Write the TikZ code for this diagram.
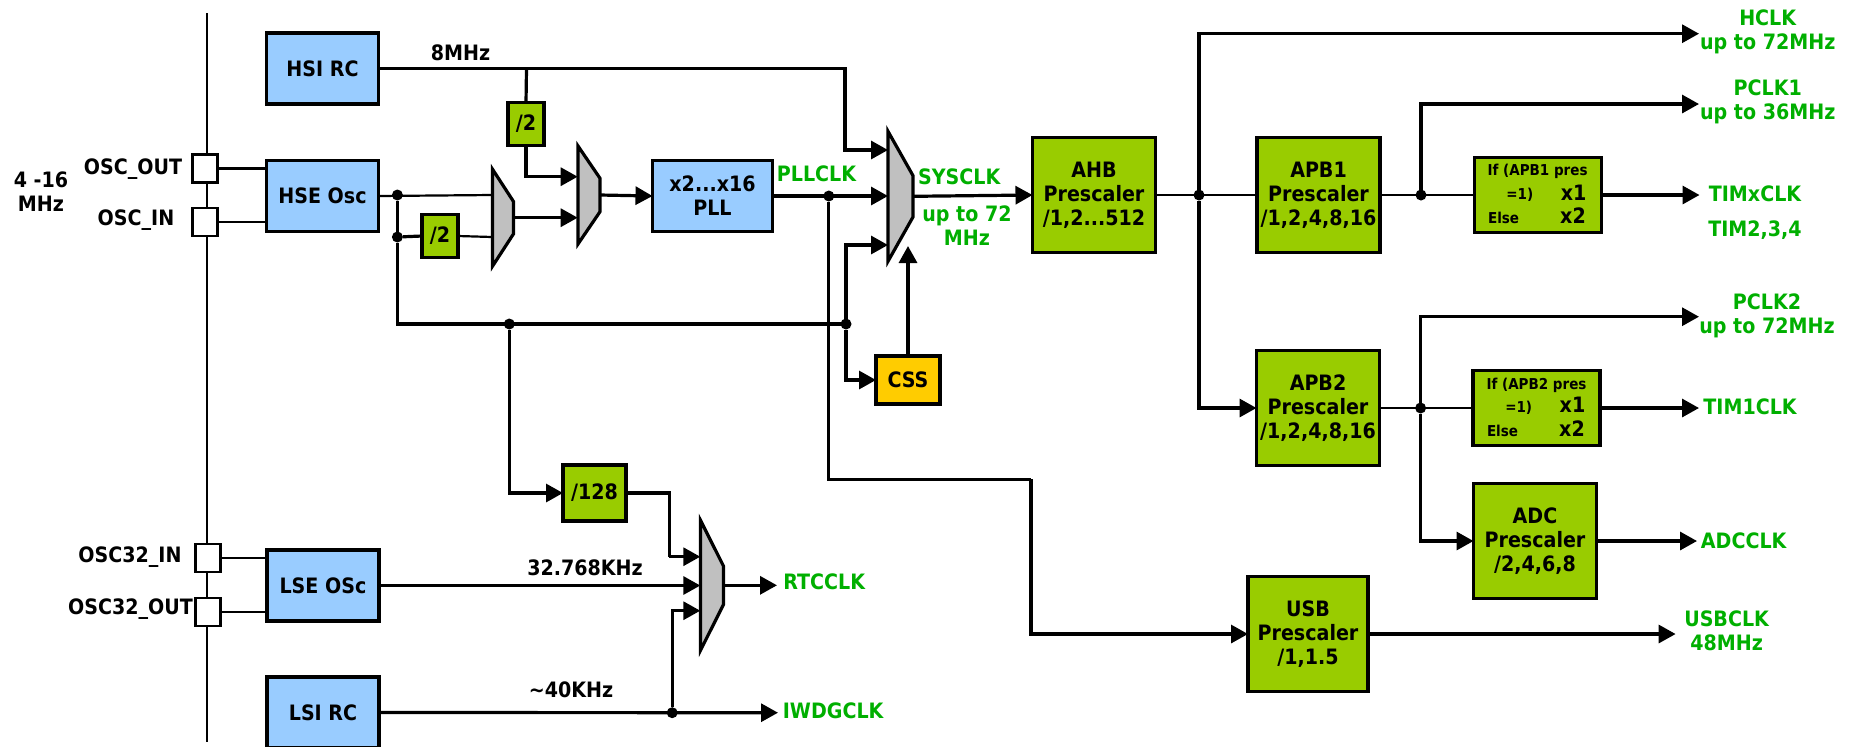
\documentclass[tikz,border=0pt]{standalone}
\usepackage{fontspec}
\setmainfont{DejaVu Sans Condensed}[BoldFont=DejaVu Sans Condensed Bold]
\usetikzlibrary{arrows.meta,shapes.geometric}
\definecolor{oscblue}{HTML}{99CCFF}
\definecolor{divgreen}{HTML}{99CC00}
\definecolor{cssyellow}{HTML}{FFCC00}
\definecolor{muxgray}{HTML}{C0C0C0}
\definecolor{clkgreen}{HTML}{00AF00}
\tikzset{
	fontbf/.style={font=\fontsize{10.6}{12}\selectfont\bfseries},
	block/.style={draw,line width=1.6pt,align=center,inner sep=0pt,outer sep=0pt,fontbf},
	oscbox/.style={block,fill=oscblue,minimum width=56pt,minimum height=35.5pt},
	prebox/.style={block,fill=divgreen,minimum width=61.5pt,minimum height=57.5pt},
	divbox/.style={block,fill=divgreen,minimum width=18pt,minimum height=21.5pt},
	timbox/.style={block,fill=divgreen,minimum width=63.5pt,minimum height=37.5pt},
	pinbox/.style={draw,line width=1.1pt,fill=white,inner sep=0pt,outer sep=0pt,minimum width=12.5pt,minimum height=14pt},
	muxbox/.style={draw,line width=1.6pt,fill=muxgray,trapezium,rotate=-90,trapezium stretches=true,inner sep=1pt,outer sep=0pt},
	joint/.style={circle,fill=black,inner sep=0pt,outer sep=0pt,minimum size=5.5pt},
	txt/.style={fontbf,inner sep=0pt},
	clk/.style={txt,text=clkgreen,align=center},
	small/.style={inner sep=0pt,font=\fontsize{7.5}{8}\selectfont\bfseries},
	wire/.style={draw,line width=1.6pt},
	thinwire/.style={draw,line width=1.1pt},
	conn/.style={wire,-{Triangle[length=8.5pt,width=9pt]}}
}
\begin{document}
\begin{tikzpicture}[x=0.5pt,y=-0.5pt]
	\useasboundingbox (0,0) rectangle (1850,746);
	% package pins
	\coordinate (railtop) at (207,13);
	\coordinate (railbot) at (207,742);
	\draw[thinwire] (railtop) -- (railbot);
	\node[pinbox] (pinout) at (205,168.5) {};
	\node[pinbox] (pinin) at (205,222) {};
	\node[pinbox] (pinout32) at (208,612) {};
	\node[pinbox] (pinin32) at (208,558) {};
	\node[txt] (lblout) at (133,169) {OSC\_OUT};
	\node[txt] (lblin) at (136,220) {OSC\_IN};
	\node[txt] (lblin32) at (130,557) {OSC32\_IN};
	\node[txt] (lblout32) at (130.5,609) {OSC32\_OUT};
	\node[txt,align=center] (lblfreq) at (41,192) {4 -16\\MHz};

	% sources
	\node[oscbox] (hsi) at (322.5,68.5) {HSI RC};
	\node[oscbox] (hse) at (322.5,196) {HSE Osc};
	\node[oscbox] (lse) at (323,585.5) {LSE OSc};
	\node[oscbox] (lsi) at (323,712.5) {LSI RC};
	\node[oscbox,minimum width=60pt] (pll) at (712.5,196) {x2...x16\\PLL};
	\node[divbox] (diva) at (526,124) {/2};
	\node[divbox] (divb) at (440,236) {/2};
	\node[divbox,minimum width=31.5pt,minimum height=28pt] (divc) at (594.5,493) {/128};
	\node[block,fill=cssyellow,minimum width=32pt,minimum height=24pt] (css) at (908,380) {CSS};

	% multiplexers
	\node[muxbox,minimum width=48.5pt,minimum height=10.5pt,trapezium angle=45] (muxa) at (503,217.7) {};
	\node[muxbox,minimum width=49pt,minimum height=11pt,trapezium angle=46] (muxb) at (589,195) {};
	\node[muxbox,minimum width=65pt,minimum height=12.5pt,trapezium angle=43] (muxc) at (900.5,196.3) {};
	\node[muxbox,minimum width=65pt,minimum height=11.5pt,trapezium angle=40] (muxd) at (712,585.3) {};

	% prescalers
	\node[prebox] (ahb) at (1094,195) {AHB\\Prescaler\\/1,2...512};
	\node[prebox] (apba) at (1318.5,195) {APB1\\Prescaler\\/1,2,4,8,16};
	\node[prebox] (apbb) at (1318,408) {APB2\\Prescaler\\/1,2,4,8,16};
	\node[prebox] (adc) at (1535,541) {ADC\\Prescaler\\/2,4,6,8};
	\node[prebox,minimum width=60pt] (usb) at (1308,634) {USB\\Prescaler\\/1,1.5};
	\node[timbox] (tima) at (1537.7,195) {};
	\node[timbox] (timb) at (1536.5,408) {};

	% timer multiplier texts
	\node[small] (ifa) at (1537.6,171) {If (APB1 pres};
	\node[small] (eqa) at (1519.8,194.3) {=1)};
	\node[small] (elsea) at (1503.6,218) {Else};
	\node[txt] (xonea) at (1573.6,192.3) {x1};
	\node[txt] (xtwoa) at (1573,216) {x2};
	\node[small] (ifb) at (1536.5,385) {If (APB2 pres};
	\node[small] (eqb) at (1518.7,408) {=1)};
	\node[small] (elseb) at (1502.5,431) {Else};
	\node[txt] (xoneb) at (1572.5,405) {x1};
	\node[txt] (xtwob) at (1572,429) {x2};

	% frequency texts
	\node[txt] (lbleight) at (460.5,53) {8MHz};
	\node[txt] (lblrtc) at (585,568) {32.768KHz};
	\node[txt] (lblforty) at (571,690) {\textasciitilde40KHz};

	% clock names
	\node[clk] (pllclk) at (816.5,173.7) {PLLCLK};
	\node[clk] (sysclk) at (959.3,176.7) {SYSCLK};
	\node[clk] (sysmax) at (967,226) {up to 72\\MHz};
	\node[clk] (hclk) at (1767.7,32) {HCLK\\up to 72MHz};
	\node[clk] (pclka) at (1767.7,102) {PCLK1\\up to 36MHz};
	\node[clk] (pclkb) at (1767,316) {PCLK2\\up to 72MHz};
	\node[clk] (timxclk) at (1755,194) {TIMxCLK};
	\node[clk] (timlist) at (1755,230) {TIM2,3,4};
	\node[clk,anchor=west] (timoneclk) at (1703,407) {TIM1CLK};
	\node[clk,anchor=west] (adcclk) at (1700.5,540.7) {ADCCLK};
	\node[clk] (usbclk) at (1726.6,630.7) {USBCLK\\48MHz};
	\node[clk,anchor=west] (rtcclk) at (783,582) {RTCCLK};
	\node[clk,anchor=west] (iwdgclk) at (782.5,710.7) {IWDGCLK};

	% junctions
	\node[joint] (joscup) at (397.4,195) {};
	\node[joint] (joscdiv) at (397.4,237) {};
	\node[joint] (jcssa) at (509.3,324) {};
	\node[joint] (jcssb) at (846,324) {};
	\node[joint] (jpll) at (828.8,196) {};
	\node[joint] (jahb) at (1199,195) {};
	\node[joint] (japba) at (1421,195) {};
	\node[joint] (japbb) at (1420.6,408) {};
	\node[joint] (jlsi) at (672.2,712.7) {};

	% ends and bends
	\coordinate (hsitap) at (526.5,68.5);
	\coordinate (hsibend) at (845,150);
	\coordinate (muxain) at (492.3,195);
	\coordinate (muxaalt) at (492.3,237);
	\coordinate (muxbtop) at (577.7,176.7);
	\coordinate (muxblow) at (577.7,217.7);
	\coordinate (muxctop) at (888,150);
	\coordinate (muxcmid) at (888,196);
	\coordinate (muxclow) at (888,245);
	\coordinate (muxccss) at (908,246);
	\coordinate (muxdbend) at (669.4,556.7);
	\coordinate (muxdtop) at (700.3,556.7);
	\coordinate (muxdmid) at (700.3,585.5);
	\coordinate (muxdlow) at (700.3,610.7);
	\coordinate (usbbend) at (1031,479.3);
	\coordinate (hclktip) at (1699,33.7);
	\coordinate (pclkatip) at (1699,104);
	\coordinate (timxtip) at (1699.5,195);
	\coordinate (pclkbtip) at (1699,316.7);
	\coordinate (timonetip) at (1699,408);
	\coordinate (adctip) at (1697,541);
	\coordinate (usbtip) at (1675.6,634);
	\coordinate (rtctip) at (777,585.3);
	\coordinate (iwdgtip) at (778,712.7);

	% connectors
	\draw[thinwire] (pinout.east) -- (pinout.east -| hse.west);
	\draw[thinwire] (pinin.east) -- (pinin.east -| hse.west);
	\draw[thinwire] (pinin32.east) -- (pinin32.east -| lse.west);
	\draw[thinwire] (pinout32.east) -- (pinout32.east -| lse.west);
	\draw[conn] (hsi.east) -| (hsibend) -- (muxctop);
	\draw[wire] (hsitap) -- (diva.north);
	\draw[conn] (diva.south) |- (muxbtop);
	\draw[thinwire] (hse.east) -- (muxain);
	\draw[thinwire] (joscup) -- (joscdiv);
	\draw[wire] (joscdiv) -- (divb.west);
	\draw[thinwire] (divb.east) -- (muxaalt);
	\draw[conn] (muxa.north) -- (muxblow);
	\draw[conn] (muxb.north) -- (pll.west);
	\draw[conn] (pll.east) -- (muxcmid);
	\draw[wire] (joscdiv) |- (jcssb);
	\draw[conn] (jcssb) |- (muxclow);
	\draw[conn] (jcssb) |- (css.west);
	\draw[conn] (css.north) -- (muxccss);
	\draw[conn] (jcssa) |- (divc.west);
	\draw[wire] (divc.east) -| (muxdbend);
	\draw[conn] (muxdbend) -- (muxdtop);
	\draw[conn] (lse.east) -- (muxdmid);
	\draw[conn] (lsi.east) -- (iwdgtip);
	\draw[conn] (jlsi) |- (muxdlow);
	\draw[conn] (muxd.north) -- (rtctip);
	\draw[conn] (muxc.north) -- (ahb.west);
	\draw[thinwire] (ahb.east) -- (apba.west);
	\draw[conn] (jahb) |- (hclktip);
	\draw[conn] (jahb) |- (apbb.west);
	\draw[thinwire] (apba.east) -- (tima.west);
	\draw[conn] (japba) |- (pclkatip);
	\draw[conn] (tima.east) -- (timxtip);
	\draw[thinwire] (apbb.east) -- (timb.west);
	\draw[conn] (japbb) |- (pclkbtip);
	\draw[conn] (japbb) |- (adc.west);
	\draw[conn] (timb.east) -- (timonetip);
	\draw[conn] (adc.east) -- (adctip);
	\draw[wire] (jpll) |- (usbbend);
	\draw[conn] (usbbend) |- (usb.west);
	\draw[conn] (usb.east) -- (usbtip);
\end{tikzpicture}
\end{document}
